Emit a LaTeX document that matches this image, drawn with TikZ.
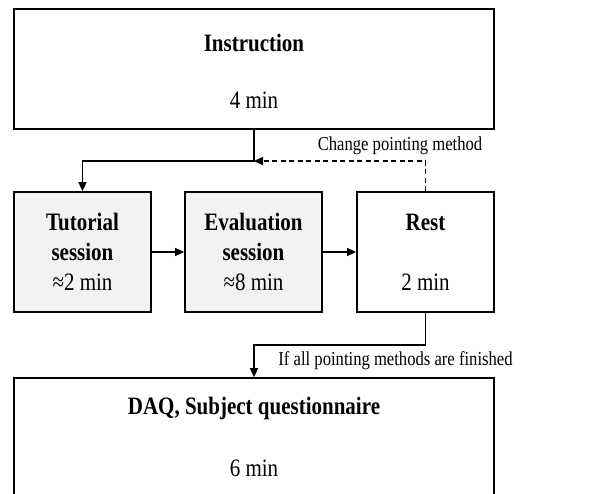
\documentclass[tikz,border=0pt]{standalone}
\usepackage{fontspec}
\setmainfont[FakeStretch=0.84]{Liberation Serif}
\usetikzlibrary{arrows.meta}
\definecolor{boxgray}{HTML}{F2F2F2}
\begin{document}
\begin{tikzpicture}[x=1pt,y=-1pt,
  framed/.style={draw=black, line width=1.7pt, inner sep=0pt, minimum height=120pt},
  widebox/.style={framed, fill=white, minimum width=480pt},
  stagebox/.style={framed, minimum width=137pt, align=center,
    font=\fontsize{25}{30}\selectfont},
  shaded/.style={stagebox, fill=boxgray},
  plain/.style={stagebox, fill=white},
  bigtext/.style={inner sep=0pt, font=\fontsize{25}{30}\selectfont},
  smalltext/.style={inner sep=0pt, font=\fontsize{19.8}{24}\selectfont},
  flow/.style={line width=1.5pt, -{Triangle[length=9pt,width=8pt]}},
  back/.style={flow, dash pattern=on 5pt off 3.5pt}]
\useasboundingbox (0,0) rectangle (592,493);
\clip (0,0) rectangle (592,493);

% top and bottom blocks
\node[widebox] (instr) at (254,69) {};
\node[bigtext] (instrT) at (254,43) {\bfseries Instruction};
\node[bigtext] (instrD) at (254,100) {4 min};

\node[widebox] (daq) at (254,438) {};
\node[bigtext] (daqT) at (254,408) {\bfseries DAQ, Subject questionnaire};
\node[bigtext] (daqD) at (254,468) {6 min};

% per-method stages
\node[shaded] (tut) at (82.5,252) {\textbf{Tutorial}\\\textbf{session}\\≈2 min};
\node[shaded] (eval) at (253.5,252) {\textbf{Evaluation}\\\textbf{session}\\≈8 min};
\node[plain] (rest) at (425.5,252) {\textbf{Rest}\\[30pt]2 min};

% connectors
\draw[flow] (instr.south) -- (254,161) coordinate (merge) -| (tut.north);
\draw[flow] (tut.east) -- (eval.west);
\draw[flow] (eval.east) -- (rest.west);
\draw[back] (rest.north) |- (merge);
\node[smalltext] (loopLbl) at (400,146) {Change pointing method};
\draw[flow] (rest.south) -- (425.5,345) -| (daq.north);
\node[smalltext] (doneLbl) at (395.5,361) {If all pointing methods are finished};
\end{tikzpicture}
\end{document}
